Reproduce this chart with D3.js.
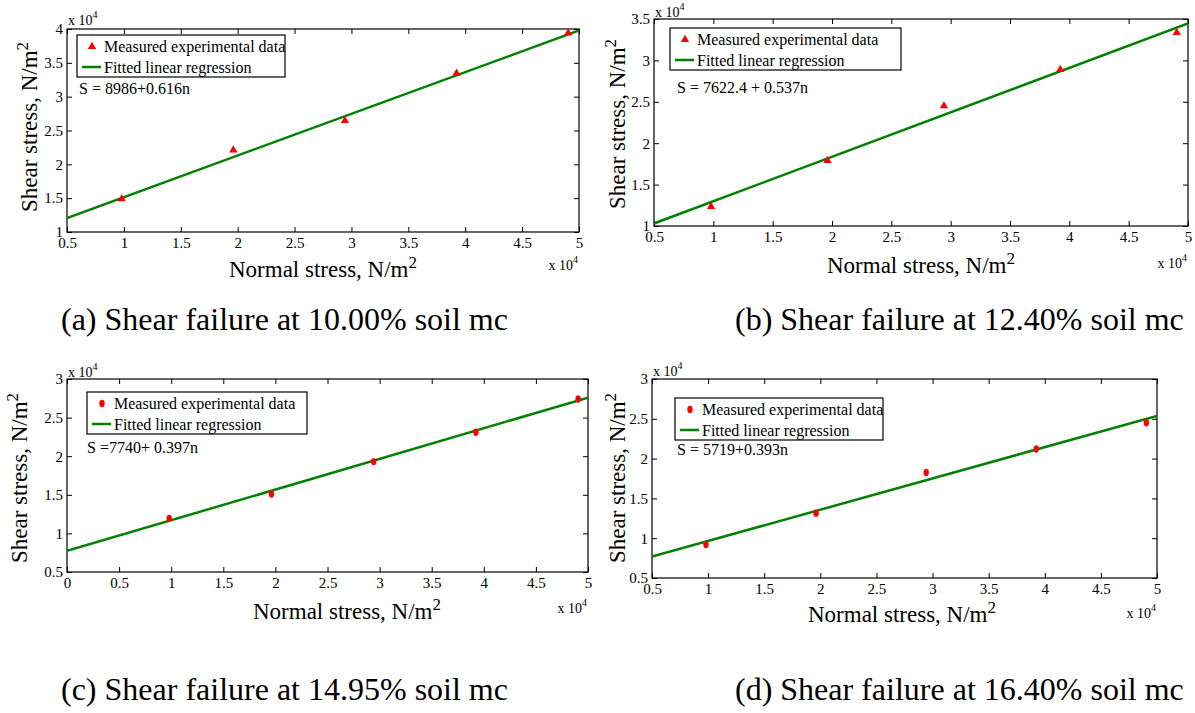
<!DOCTYPE html>
<html><head><meta charset="utf-8">
<script src="https://cdn.jsdelivr.net/npm/d3@7"></script>
<style>
body{margin:0;background:#fff}
svg{display:block}
text{font-family:"Liberation Serif","Times New Roman",serif;fill:#000}
</style>
</head><body>
<svg id="chart" width="1195" height="713" font-family="'Liberation Serif', 'Times New Roman', serif"></svg>
<script>
// ---------- data ----------
const normalStress = [9810, 19620, 29430, 39240, 49050];
const shearA = [14900, 22100, 26450, 33450, 39400];
const shearB = [12350, 17900, 24500, 28900, 33350];
const shearC = [11950, 15100, 19300, 23100, 27400];
const shearD = [9200, 13150, 18250, 21200, 24500];
const fitIntercept = [8986, 7622.4, 7740, 5719];
const fitSlope = [0.616, 0.537, 0.397, 0.393];
const equationLabels = ["S = 8986+0.616n", "S = 7622.4 + 0.537n", "S =7740+ 0.397n", "S = 5719+0.393n"];
const captions = ["(a) Shear failure at 10.00% soil mc", "(b) Shear failure at 12.40% soil mc",
                  "(c) Shear failure at 14.95% soil mc", "(d) Shear failure at 16.40% soil mc"];
const legendLabels = ["Measured experimental data", "Fitted linear regression"];
const xDomains = [[5000, 50000], [5000, 50000], [0, 50000], [5000, 50000]];
const yDomains = [[10000, 40000], [10000, 35000], [5000, 30000], [5000, 30000]];
const xTicksHalf = [5000, 10000, 15000, 20000, 25000, 30000, 35000, 40000, 45000, 50000];
const xTicksZero = [0, 5000, 10000, 15000, 20000, 25000, 30000, 35000, 40000, 45000, 50000];
const yTicksA = [10000, 15000, 20000, 25000, 30000, 35000, 40000];
const yTicksB = [10000, 15000, 20000, 25000, 30000, 35000];
const yTicksCD = [5000, 10000, 15000, 20000, 25000, 30000];
const markerTypes = ["triangle", "triangle", "diamond", "diamond"];

const seriesList = [shearA, shearB, shearC, shearD];
const xTickList = [xTicksHalf, xTicksHalf, xTicksZero, xTicksHalf];
const yTickList = [yTicksA, yTicksB, yTicksCD, yTicksCD];

// ---------- layout (pixels) ----------
const layout = [
  {l:67, r:579, t:29, b:232, leg:{x:77, y:35, w:208}, eq:{x:79, y:94}, xl:{x:323, y:277}, yl:{x:37, y:127},
   xe:{y:270}, ye:{y:25}, cap:{x:61, y:330}},
  {l:654, r:1188, t:19, b:226, leg:{x:670, y:28, w:231}, eq:{x:677, y:93}, xl:{x:921, y:273}, yl:{x:625, y:124},
   xe:{y:268}, ye:{y:17}, cap:{x:735, y:330}},
  {l:67, r:588, t:379, b:572, leg:{x:87, y:392, w:220}, eq:{x:87, y:453}, xl:{x:347, y:619}, yl:{x:27, y:478},
   xe:{y:613}, ye:{y:377}, cap:{x:61, y:700}},
  {l:652, r:1157, t:379, b:578, leg:{x:675, y:398, w:208}, eq:{x:677, y:455}, xl:{x:902, y:622}, yl:{x:625, y:478},
   xe:{y:618}, ye:{y:376}, cap:{x:735, y:700}}
];

const FONT = '"Liberation Serif","Times New Roman",serif';
const svg = d3.select("#chart");
const RED = "#ff0000", GREEN = "#008000";
const fmt = v => String(+(v / 10000).toFixed(2));

function drawMarker(g, type, x, y) {
  if (type === "triangle") {
    g.append("path").attr("d", d3.symbol(d3.symbolTriangle, 30)())
      .attr("transform", `translate(${x},${y})`).attr("fill", RED);
  } else {
    g.append("ellipse").attr("cx", x).attr("cy", y).attr("rx", 2.7).attr("ry", 3.7).attr("fill", RED);
  }
}

function addText(g, x, y, size, str) {
  return g.append("text").attr("x", x).attr("y", y)
    .style("font-family", FONT).style("font-size", size + "px").text(str);
}

function supText(g, x, y, anchor, size, main, sup, supSize, raise, rotate) {
  const t = g.append("text").attr("text-anchor", anchor)
    .style("font-family", FONT).style("font-size", size + "px");
  if (rotate) t.attr("transform", `translate(${x},${y}) rotate(-90)`);
  else t.attr("x", x).attr("y", y);
  t.append("tspan").text(main);
  t.append("tspan").attr("dy", -raise).style("font-size", supSize + "px").text(sup);
  return t;
}

layout.forEach((L, i) => {
  const g = svg.append("g");
  const x = d3.scaleLinear().domain(xDomains[i]).range([L.l, L.r]);
  const y = d3.scaleLinear().domain(yDomains[i]).range([L.b, L.t]);
  const clipId = "clip" + i;
  svg.append("clipPath").attr("id", clipId).append("rect")
    .attr("x", L.l).attr("y", L.t).attr("width", L.r - L.l).attr("height", L.b - L.t);

  // axes with inward ticks
  const ax = [
    g.append("g").attr("transform", `translate(0,${L.b})`)
      .call(d3.axisBottom(x).tickValues(xTickList[i]).tickFormat(fmt).tickSizeInner(-5).tickSizeOuter(0).tickPadding(5)),
    g.append("g").attr("transform", `translate(0,${L.t})`)
      .call(d3.axisTop(x).tickValues(xTickList[i]).tickFormat("").tickSizeInner(-5).tickSizeOuter(0)),
    g.append("g").attr("transform", `translate(${L.l},0)`)
      .call(d3.axisLeft(y).tickValues(yTickList[i]).tickFormat(fmt).tickSizeInner(-5).tickSizeOuter(0).tickPadding(4)),
    g.append("g").attr("transform", `translate(${L.r},0)`)
      .call(d3.axisRight(y).tickValues(yTickList[i]).tickFormat("").tickSizeInner(-5).tickSizeOuter(0))
  ];
  ax.forEach(a => {
    a.attr("font-family", null).attr("font-size", null);
    a.select(".domain").remove();
    a.selectAll("line").attr("stroke", "#000");
    a.selectAll("text").style("font-size", "15px").style("font-family", FONT);
  });
  g.append("rect").attr("x", L.l).attr("y", L.t).attr("width", L.r - L.l).attr("height", L.b - L.t)
    .attr("fill", "none").attr("stroke", "#000").attr("stroke-width", 1.2);

  // fitted line
  const xd = xDomains[i];
  const fit = xd.map(v => [v, fitIntercept[i] + fitSlope[i] * v]);
  g.append("path").attr("clip-path", `url(#${clipId})`)
    .attr("d", d3.line().x(d => x(d[0])).y(d => y(d[1]))(fit))
    .attr("fill", "none").attr("stroke", GREEN).attr("stroke-width", 2.5);

  // measured points
  const pts = g.append("g");
  normalStress.forEach((n, k) => drawMarker(pts, markerTypes[i], x(n), y(seriesList[i][k])));

  // legend
  const lg = g.append("g");
  lg.append("rect").attr("x", L.leg.x).attr("y", L.leg.y).attr("width", L.leg.w).attr("height", 42)
    .attr("fill", "#fff").attr("stroke", "#000").attr("stroke-width", 1.2);
  const r1 = L.leg.y + 11.5, r2 = L.leg.y + 32;
  drawMarker(lg, markerTypes[i], L.leg.x + 15, r1);
  lg.append("line").attr("x1", L.leg.x + 5).attr("x2", L.leg.x + 24).attr("y1", r2).attr("y2", r2)
    .attr("stroke", GREEN).attr("stroke-width", 2.5);
  addText(lg, L.leg.x + 27, r1 + 5.5, 16, legendLabels[0]);
  addText(lg, L.leg.x + 27, r2 + 5.5, 16, legendLabels[1]);

  // equation
  addText(g, L.eq.x, L.eq.y, 16, equationLabels[i]);

  // axis titles
  supText(g, L.xl.x, L.xl.y, "middle", 23, "Normal stress, N/m", "2", 17, 9, false);
  supText(g, L.yl.x, L.yl.y, "middle", 23, "Shear stress, N/m", "2", 17, 9, true);

  // exponent labels
  supText(g, L.l + 1, L.ye.y, "start", 14, "x 10", "4", 10, 7, false);
  supText(g, L.r - 1, L.xe.y, "end", 14, "x 10", "4", 10, 7, false);

  // caption
  addText(svg, L.cap.x, L.cap.y, 32, captions[i]);
});
</script>
</body></html>
